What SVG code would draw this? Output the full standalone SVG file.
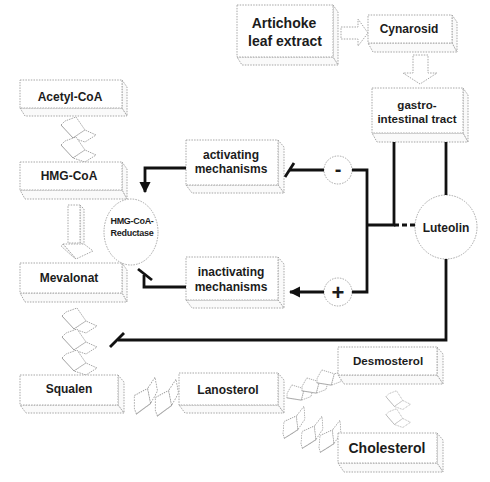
<svg xmlns="http://www.w3.org/2000/svg" xmlns:xlink="http://www.w3.org/1999/xlink" width="490" height="482" viewBox="0 0 490 482">
<defs>
<style>
.bx{fill:#fff;stroke:#a6a6a6;stroke-width:1;stroke-dasharray:1.5 1.2}
.sd{fill:#fafafa;stroke:#a6a6a6;stroke-width:1;stroke-dasharray:1.5 1.2}
.t{font-family:"Liberation Sans",Arial,sans-serif;font-weight:bold;fill:#1c1c1c;text-anchor:middle}
.ln{fill:none;stroke:#111;stroke-width:2.8}
.fd{fill:#fff;stroke:#9a9a9a;stroke-width:0.9;stroke-dasharray:1.5 1}
</style>
<marker id="ah" viewBox="0 0 10 10" refX="9" refY="5" markerWidth="4" markerHeight="4" orient="auto" markerUnits="strokeWidth">
<path d="M0,0 L10,5 L0,10 z" fill="#111"/>
</marker>
<g id="fold">
<polygon class="fd" points="0,9 4,5 15,1 24,14 12,22"/>
<polygon class="fd" points="12,22 24,14 35,19 24,26"/>
<path class="fd" d="M0,9 L12,22"/>
</g>
</defs>
<rect width="490" height="482" fill="#fff"/>

<!-- folded arrows -->
<g id="folds">
<use xlink:href="#fold" transform="translate(61,116)"/>
<use xlink:href="#fold" transform="translate(61,136)"/>
<use xlink:href="#fold" transform="translate(62,307)"/>
<use xlink:href="#fold" transform="translate(62,328)"/>
<use xlink:href="#fold" transform="translate(62,349)"/>
<use xlink:href="#fold" transform="translate(129,412) rotate(-75) scale(1.15,0.85)"/>
<use xlink:href="#fold" transform="translate(150,414) rotate(-75) scale(1.15,0.85)"/>
<use xlink:href="#fold" transform="translate(282,392) rotate(-40) scale(0.8,0.85)"/>
<use xlink:href="#fold" transform="translate(297,385) rotate(-40) scale(0.8,0.85)"/>
<use xlink:href="#fold" transform="translate(312,377) rotate(-40) scale(0.8,0.85)"/>
<use xlink:href="#fold" transform="translate(278,436) rotate(-70) scale(1.05,0.75)"/>
<use xlink:href="#fold" transform="translate(296,446) rotate(-70) scale(1.05,0.75)"/>
<use xlink:href="#fold" transform="translate(314,450) rotate(-70) scale(1.05,0.75)"/>
<use xlink:href="#fold" transform="translate(386,390) scale(0.7,0.75)"/>
<use xlink:href="#fold" transform="translate(386,408) scale(0.7,0.75)"/>
</g>

<!-- hollow arrows -->
<g id="hollow-arrows">
<polygon class="bx" points="341,27 358,27 358,19 368,33 358,46 358,39 341,39"/>
<polygon class="bx" points="413,55 428,55 428,73 437,73 420,84 403,73 413,73"/>
<g id="arrow-hmg-mev">
<polygon class="sd" points="80,205 84,209 84,245 80,243"/>
<rect class="bx" x="68" y="205" width="12" height="38"/>
<polygon class="bx" points="63,244 84,244 93,251 76,259"/>
<polygon class="sd" points="63,244 76,259 72,256 61,246"/>
</g>
</g>

<!-- boxes -->
<g id="artichoke">
<polygon class="sd" points="333,5 338,12 338,65 333,57"/><polygon class="sd" points="237,57 333,57 338,65 242,65"/>
<rect class="bx" x="237" y="5" width="96" height="52"/>
<text class="t" x="284" y="28" font-size="14">Artichoke</text><text class="t" x="285" y="46" font-size="14">leaf extract</text>
</g>
<g id="cynarosid">
<polygon class="sd" points="452,15 457,22 457,52 452,43"/><polygon class="sd" points="368,43 452,43 457,52 373,52"/>
<rect class="bx" x="368" y="15" width="84" height="28"/>
<text class="t" x="409" y="33" font-size="12">Cynarosid</text>
</g>
<g id="gastro">
<polygon class="sd" points="463,88 468,95 468,142 463,133"/><polygon class="sd" points="372,133 463,133 468,142 377,142"/>
<rect class="bx" x="372" y="88" width="91" height="45"/>
<text class="t" x="417" y="109" font-size="11.6">gastro-</text><text class="t" x="417" y="123" font-size="11.6">intestinal tract</text>
</g>
<g id="acetyl">
<polygon class="sd" points="122,80 127,87 127,116 122,108"/><polygon class="sd" points="20,108 122,108 127,116 25,116"/>
<rect class="bx" x="20" y="80" width="102" height="28"/>
<text class="t" x="70" y="101" font-size="12">Acetyl-CoA</text>
</g>
<g id="hmgcoa">
<polygon class="sd" points="122,162 127,169 127,199 122,190"/><polygon class="sd" points="20,190 122,190 127,199 25,199"/>
<rect class="bx" x="20" y="162" width="102" height="28"/>
<text class="t" x="69" y="180" font-size="12">HMG-CoA</text>
</g>
<g id="mevalonat">
<polygon class="sd" points="122,263 127,270 127,302 122,293"/><polygon class="sd" points="20,293 122,293 127,302 25,302"/>
<rect class="bx" x="20" y="263" width="102" height="30"/>
<text class="t" x="69" y="282" font-size="12">Mevalonat</text>
</g>
<g id="squalen">
<polygon class="sd" points="118,375 124,382 124,413 118,405"/><polygon class="sd" points="20,405 118,405 124,413 26,413"/>
<rect class="bx" x="20" y="375" width="98" height="30"/>
<text class="t" x="69" y="393" font-size="12">Squalen</text>
</g>
<g id="lanosterol">
<polygon class="sd" points="278,373 284,380 284,413 278,405"/><polygon class="sd" points="179,405 278,405 284,413 185,413"/>
<rect class="bx" x="179" y="373" width="99" height="32"/>
<text class="t" x="228" y="394" font-size="12">Lanosterol</text>
</g>
<g id="desmosterol">
<polygon class="sd" points="437,347 443,354 443,384 437,375"/><polygon class="sd" points="338,375 437,375 443,384 344,384"/>
<rect class="bx" x="338" y="347" width="99" height="28"/>
<text class="t" x="388" y="365" font-size="11.6">Desmosterol</text>
</g>
<g id="cholesterol">
<polygon class="sd" points="437,433 443,440 443,472 437,463"/><polygon class="sd" points="338,463 437,463 443,472 344,472"/>
<rect class="bx" x="338" y="433" width="99" height="30"/>
<text class="t" x="387" y="453" font-size="14">Cholesterol</text>
</g>
<g id="activating">
<polygon class="sd" points="278,140 284,147 284,193 278,185"/><polygon class="sd" points="186,185 278,185 284,193 192,193"/>
<rect class="bx" x="186" y="140" width="92" height="45"/>
<text class="t" x="231" y="159" font-size="12">activating</text><text class="t" x="231" y="173" font-size="12">mechanisms</text>
</g>
<g id="inactivating">
<polygon class="sd" points="278,257 284,264 284,308 278,300"/><polygon class="sd" points="186,300 278,300 284,308 192,308"/>
<rect class="bx" x="186" y="257" width="92" height="43"/>
<text class="t" x="231" y="276" font-size="12">inactivating</text><text class="t" x="231" y="291" font-size="12">mechanisms</text>
</g>
<g id="reductase">
<ellipse class="bx" cx="131" cy="232" rx="27" ry="33"/>
<text class="t" x="132" y="224" font-size="9" letter-spacing="-0.3">HMG-CoA-</text><text class="t" x="132" y="236" font-size="9" letter-spacing="-0.3">Reductase</text>
</g>
<g id="luteolin">
<ellipse class="bx" cx="446" cy="227" rx="31" ry="32"/>
<text class="t" x="446" y="232" font-size="12">Luteolin</text>
</g>
<g id="minus">
<circle class="bx" cx="338" cy="170" r="14"/>
<text class="t" x="338" y="176" font-size="20">-</text>
</g>
<g id="plus">
<circle class="bx" cx="338" cy="292" r="14"/>
<text class="t" x="338" y="300" font-size="22">+</text>
</g>

<!-- connectors -->
<g id="connectors">
<path class="ln" d="M186,168 H145 V192" marker-end="url(#ah)"/>
<path class="ln" d="M186,287 H144 V275"/>
<path class="ln" d="M138,269 L152,280"/>
<path class="ln" d="M324,170 H290"/>
<path class="ln" d="M285,177 L294,163"/>
<path class="ln" d="M324,292 H290" marker-end="url(#ah)"/>
<path class="ln" d="M352,170 H367 V292 H352"/>
<path class="ln" d="M394,142 V225 H367"/>
<path class="ln" d="M394,225 H415" stroke-dasharray="5 3"/>
<path class="ln" d="M446,142 V195"/>
<path class="ln" d="M446,259 V340 H118"/>
<path class="ln" d="M110,347 L124,333"/>
</g>
</svg>
